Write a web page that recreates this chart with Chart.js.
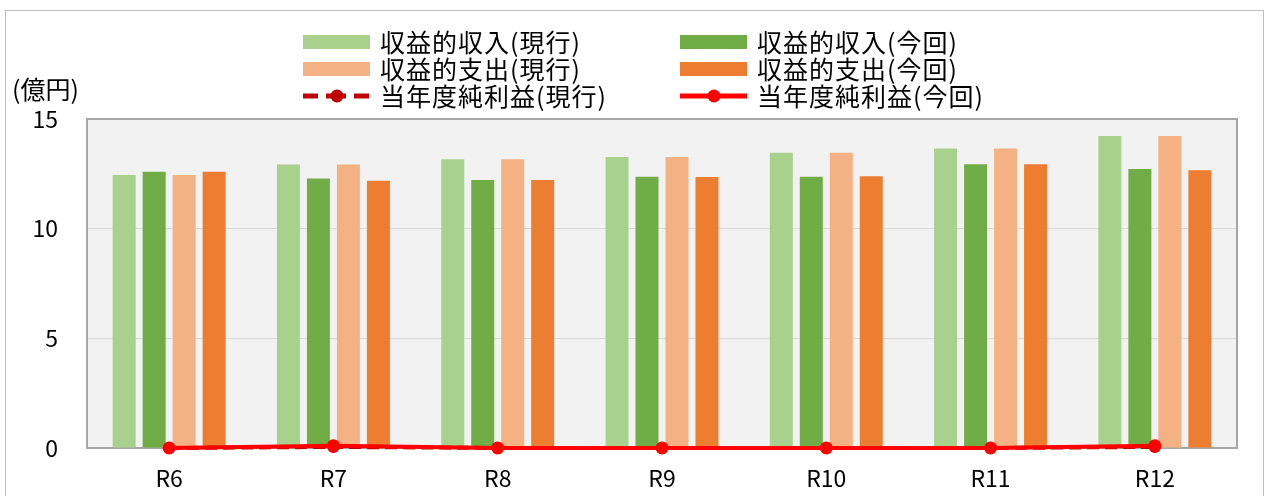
<!DOCTYPE html>
<html lang="ja">
<head>
<meta charset="utf-8">
<script src="https://cdn.jsdelivr.net/npm/chart.js@4.4.1/dist/chart.umd.min.js"></script>
<style>
html, body { margin: 0; padding: 0; background: #fff; }
#wrap { width: 1266px; height: 496px; }
</style>
</head>
<body>
<div id="wrap"><canvas id="chart" width="1266" height="496"></canvas></div>
<script>
// values (億円)
const categories = ['R6', 'R7', 'R8', 'R9', 'R10', 'R11', 'R12'];
const incomeCurrent = [12.45, 12.92, 13.17, 13.27, 13.46, 13.65, 14.22];
const incomeNew = [12.6, 12.29, 12.22, 12.37, 12.37, 12.94, 12.72];
const expenseCurrent = [12.45, 12.92, 13.17, 13.27, 13.46, 13.65, 14.22];
const expenseNew = [12.6, 12.19, 12.22, 12.35, 12.39, 12.94, 12.66];
const profitCurrent = [0.0, 0.05, 0.0, 0.0, 0.0, 0.0, 0.05];
const profitNew = [0.0, 0.1, 0.0, 0.0, 0.0, 0.0, 0.1];
const yTicks = [0, 5, 10, 15];

const FONT = '"Noto Sans CJK JP", "Noto Sans", sans-serif';

// legend slots: [dataset index, swatch x, row y]
const legendSlots = [
    [0, 303, 42], [1, 680, 42],
    [2, 303, 69], [3, 680, 69],
    [4, 303, 96], [5, 680, 96]
];

const decor = {
    id: 'decor',
    beforeDraw(chart) {
        const { ctx, chartArea: a } = chart;
        ctx.save();
        ctx.fillStyle = '#fff';
        ctx.fillRect(0, 0, chart.width, chart.height);
        // outer frame
        ctx.strokeStyle = '#bfbfbf';
        ctx.lineWidth = 1;
        ctx.strokeRect(5.5, 10.5, chart.width - 8, chart.height + 20);
        // plot background
        ctx.fillStyle = '#f2f2f2';
        ctx.fillRect(a.left, a.top, a.right - a.left, a.bottom - a.top);
        ctx.restore();
    },
    beforeDatasetsDraw(chart) {
        const { ctx, chartArea: a } = chart;
        ctx.save();
        ctx.strokeStyle = '#a6a6a6';
        ctx.lineWidth = 2;
        ctx.strokeRect(a.left, a.top, a.right - a.left, a.bottom - a.top);
        ctx.restore();
    },
    afterDraw(chart) {
        const ctx = chart.ctx;
        ctx.save();
        ctx.font = '25px ' + FONT;
        ctx.fillStyle = '#000';
        ctx.textBaseline = 'middle';
        ctx.textAlign = 'left';
        ctx.fillText('(億円)', 12, 89);

        ctx.letterSpacing = '1px';
        legendSlots.forEach(([i, x, y]) => {
            const ds = chart.data.datasets[i];
            if (ds.type === 'line') {
                ctx.strokeStyle = ds.borderColor;
                ctx.lineWidth = 5;
                ctx.lineCap = 'butt';
                ctx.setLineDash(ds.borderDash ? [15, 8, 20, 8] : []);
                ctx.beginPath();
                ctx.moveTo(x, y);
                ctx.lineTo(x + 67, y);
                ctx.stroke();
                ctx.setLineDash([]);
                ctx.fillStyle = ds.borderColor;
                ctx.beginPath();
                ctx.arc(x + 34, y, 6.5, 0, Math.PI * 2);
                ctx.fill();
            } else {
                ctx.fillStyle = ds.backgroundColor;
                ctx.fillRect(x, y - 7, 67, 14);
            }
            ctx.fillStyle = '#000';
            ctx.fillText(ds.label, x + 77, y);
        });
        ctx.restore();
    }
};

new Chart(document.getElementById('chart'), {
    data: {
        labels: categories,
        datasets: [
            { type: 'bar', label: '収益的収入(現行)', data: incomeCurrent, backgroundColor: '#a9d18e', order: 2 },
            { type: 'bar', label: '収益的収入(今回)', data: incomeNew, backgroundColor: '#70ad47', order: 2 },
            { type: 'bar', label: '収益的支出(現行)', data: expenseCurrent, backgroundColor: '#f4b183', order: 2 },
            { type: 'bar', label: '収益的支出(今回)', data: expenseNew, backgroundColor: '#ed7d31', order: 2 },
            {
                type: 'line', label: '当年度純利益(現行)', data: profitCurrent,
                borderColor: '#c00000', backgroundColor: '#c00000', borderWidth: 4, borderDash: [12, 6],
                pointRadius: 6, pointBorderWidth: 0, pointBackgroundColor: '#c00000', clip: false, order: 1
            },
            {
                type: 'line', label: '当年度純利益(今回)', data: profitNew,
                borderColor: '#ff0000', backgroundColor: '#ff0000', borderWidth: 4,
                pointRadius: 6.5, pointBorderWidth: 0, pointBackgroundColor: '#ff0000', clip: false, order: 0
            }
        ]
    },
    options: {
        responsive: false,
        animation: false,
        layout: { padding: { top: 119, right: 29, bottom: 0, left: 0 } },
        datasets: { bar: { categoryPercentage: 0.73, barPercentage: 0.767 } },
        plugins: { legend: { display: false }, tooltip: { enabled: false } },
        scales: {
            x: {
                grid: { display: false, drawTicks: false },
                border: { display: false },
                ticks: { color: '#000', font: { size: 23, family: FONT }, padding: 16 },
                afterFit(s) { s.height = 48; }
            },
            y: {
                min: 0,
                max: 15,
                afterBuildTicks(s) { s.ticks = yTicks.map(v => ({ value: v })); },
                grid: { color: '#d9d9d9', drawTicks: false, lineWidth: 1 },
                border: { display: false },
                ticks: { color: '#000', font: { size: 23, family: FONT }, padding: 29 },
                afterFit(s) { s.width = 87; }
            }
        }
    },
    plugins: [decor]
});
</script>
</body>
</html>
